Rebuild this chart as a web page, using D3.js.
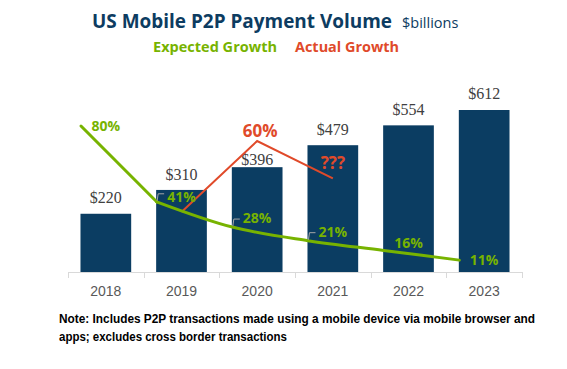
<!DOCTYPE html>
<html><head><meta charset="utf-8">
<script src="https://cdn.jsdelivr.net/npm/d3@7"></script>
<style>body{margin:0;background:#fff}svg{display:block}</style>
</head><body>
<svg id="c" width="567" height="369"></svg>
<script>
const years = ["2018","2019","2020","2021","2022","2023"];
const volume = [220, 310, 396, 479, 554, 612];
const volumeLabels = ["$220","$310","$396","$479","$554","$612"];
const expectedGrowth = [80, 41, 28, 21, 16, 11];
const expectedLabels = ["80%","41%","28%","21%","16%","11%"];
const actualYears = ["2019","2020","2021"];
const actualGrowth = [41, 60, 50];

const svg = d3.select("#c");
const navy = "#0b3d62", green = "#77b300", red = "#e04a2a";
const sans = "Open Sans, DejaVu Sans, sans-serif";
const x = d3.scaleBand().domain(years).range([68, 522]).paddingInner(0.33).paddingOuter(0.165);
const y = d3.scaleLinear().domain([0, 612]).range([272, 110]);
const yPct = d3.scaleLinear().domain([0, 80]).range([281.5, 126]);
const yAct = d3.scaleLinear().domain([41, 60]).range([212, 141]);

// title
const t = svg.append("text").attr("x", 92).attr("y", 28).attr("fill", "#0d3c61").attr("font-family", sans);
t.append("tspan").attr("font-size", 19).attr("font-weight", "bold").attr("textLength", 300).attr("lengthAdjust", "spacingAndGlyphs").text("US Mobile P2P Payment Volume");
t.append("tspan").attr("x", 402).attr("font-size", 14.5).text("$billions");
svg.append("text").attr("x", 153).attr("y", 52).attr("fill", green).attr("font-family", sans).attr("font-weight", "bold").attr("font-size", 15).attr("textLength", 124).attr("lengthAdjust", "spacingAndGlyphs").text("Expected Growth");
svg.append("text").attr("x", 295).attr("y", 52).attr("fill", red).attr("font-family", sans).attr("font-weight", "bold").attr("font-size", 15).attr("textLength", 104).attr("lengthAdjust", "spacingAndGlyphs").text("Actual Growth");

// bars
svg.append("g").selectAll("rect").data(years).join("rect")
  .attr("x", d => x(d)).attr("width", x.bandwidth())
  .attr("y", (d, i) => y(volume[i])).attr("height", (d, i) => y(0) - y(volume[i]))
  .attr("fill", navy);

// axis
const axis = d3.axisBottom(x).tickSize(0).tickPadding(14);
const ax = svg.append("g").attr("transform", "translate(0,272)").call(axis);
ax.select(".domain").remove();
ax.selectAll("text").attr("font-family", "Liberation Sans, Arial, sans-serif").attr("font-size", 14).attr("fill", "#595959");
svg.append("line").attr("x1", 68).attr("x2", 522).attr("y1", 272.5).attr("y2", 272.5).attr("stroke", "#d9d9d9");
const bounds = years.map(d => x(d) - x.step() * x.paddingInner() / 2).concat([522]);
svg.append("g").selectAll("line").data(bounds).join("line")
  .attr("x1", d => Math.round(d) + 0.5).attr("x2", d => Math.round(d) + 0.5).attr("y1", 272).attr("y2", 278).attr("stroke", "#d9d9d9");

// bar value labels
const valOffset = [16, 15, 7, 15, 15, 16];
svg.append("g").selectAll("text").data(years).join("text")
  .attr("x", d => x(d) + x.bandwidth() / 2).attr("y", (d, i) => y(volume[i]) - valOffset[i] + 5)
  .attr("text-anchor", "middle").attr("font-family", "Liberation Serif, Times New Roman, serif").attr("font-size", 16).attr("fill", "#404040")
  .text((d, i) => volumeLabels[i]);

// actual growth line
const actLine = d3.line().x(d => x(d[0]) + x.bandwidth() / 2).y(d => yAct(d[1]));
svg.append("path").datum(actualYears.map((d, i) => [d, actualGrowth[i]])).attr("d", actLine)
  .attr("fill", "none").attr("stroke", red).attr("stroke-width", 2);

// expected growth line: straight first segment, smoothed afterwards
const pts = years.map((d, i) => [d, expectedGrowth[i]]);
const expStraight = d3.line().x(d => x(d[0]) + 0.5).y(d => yPct(d[1]));
const expSmooth = d3.line().x(d => x(d[0]) + 0.5).y(d => yPct(d[1])).curve(d3.curveMonotoneX);
svg.append("path").datum(pts.slice(0, 2)).attr("d", expStraight)
  .attr("fill", "none").attr("stroke", green).attr("stroke-width", 3).attr("stroke-linecap", "round");
svg.append("path").datum(pts.slice(1)).attr("d", expSmooth)
  .attr("fill", "none").attr("stroke", green).attr("stroke-width", 3).attr("stroke-linecap", "round");

// leader lines
[1, 2, 3].forEach(i => {
  const px = x(years[i]) + 1, py = yPct(expectedGrowth[i]);
  svg.append("path").attr("d", `M${px},${py - 1} L${px + 1},${py - 8} L${px + 7},${py - 8}`)
    .attr("fill", "none").attr("stroke", "#a6a6a6").attr("stroke-width", 1);
});

// expected labels
const pctOffset = [0, -5, -9, -9, -7, 0];
svg.append("g").selectAll("text").data(years).join("text")
  .attr("x", d => x(d) + x.bandwidth() / 2).attr("y", (d, i) => yPct(expectedGrowth[i]) + pctOffset[i] + 5)
  .attr("text-anchor", "middle").attr("font-family", sans).attr("font-weight", "bold").attr("font-size", 14).attr("fill", green)
  .text((d, i) => expectedLabels[i]);

// actual labels
svg.append("text").attr("x", x("2020") + x.bandwidth() / 2 + 3).attr("y", yAct(60) - 4)
  .attr("text-anchor", "middle").attr("font-family", sans).attr("font-weight", "bold").attr("font-size", 17).attr("fill", red).text(actualGrowth[1] + "%");
svg.append("text").attr("x", x("2021") + x.bandwidth() / 2).attr("y", yAct(50) - 9)
  .attr("text-anchor", "middle").attr("font-family", sans).attr("font-weight", "bold").attr("font-size", 17).attr("fill", red).text("???");

// note
const note = svg.append("text").attr("font-family", "Liberation Sans, Arial, sans-serif").attr("font-size", 12.5).attr("font-weight", "bold").attr("fill", "#000");
note.append("tspan").attr("x", 59).attr("y", 323).attr("textLength", 476).attr("lengthAdjust", "spacingAndGlyphs").text("Note: Includes P2P transactions made using a mobile device via mobile browser and");
note.append("tspan").attr("x", 59).attr("y", 341).attr("textLength", 228).attr("lengthAdjust", "spacingAndGlyphs").text("apps; excludes cross border transactions");
</script>
</body></html>
